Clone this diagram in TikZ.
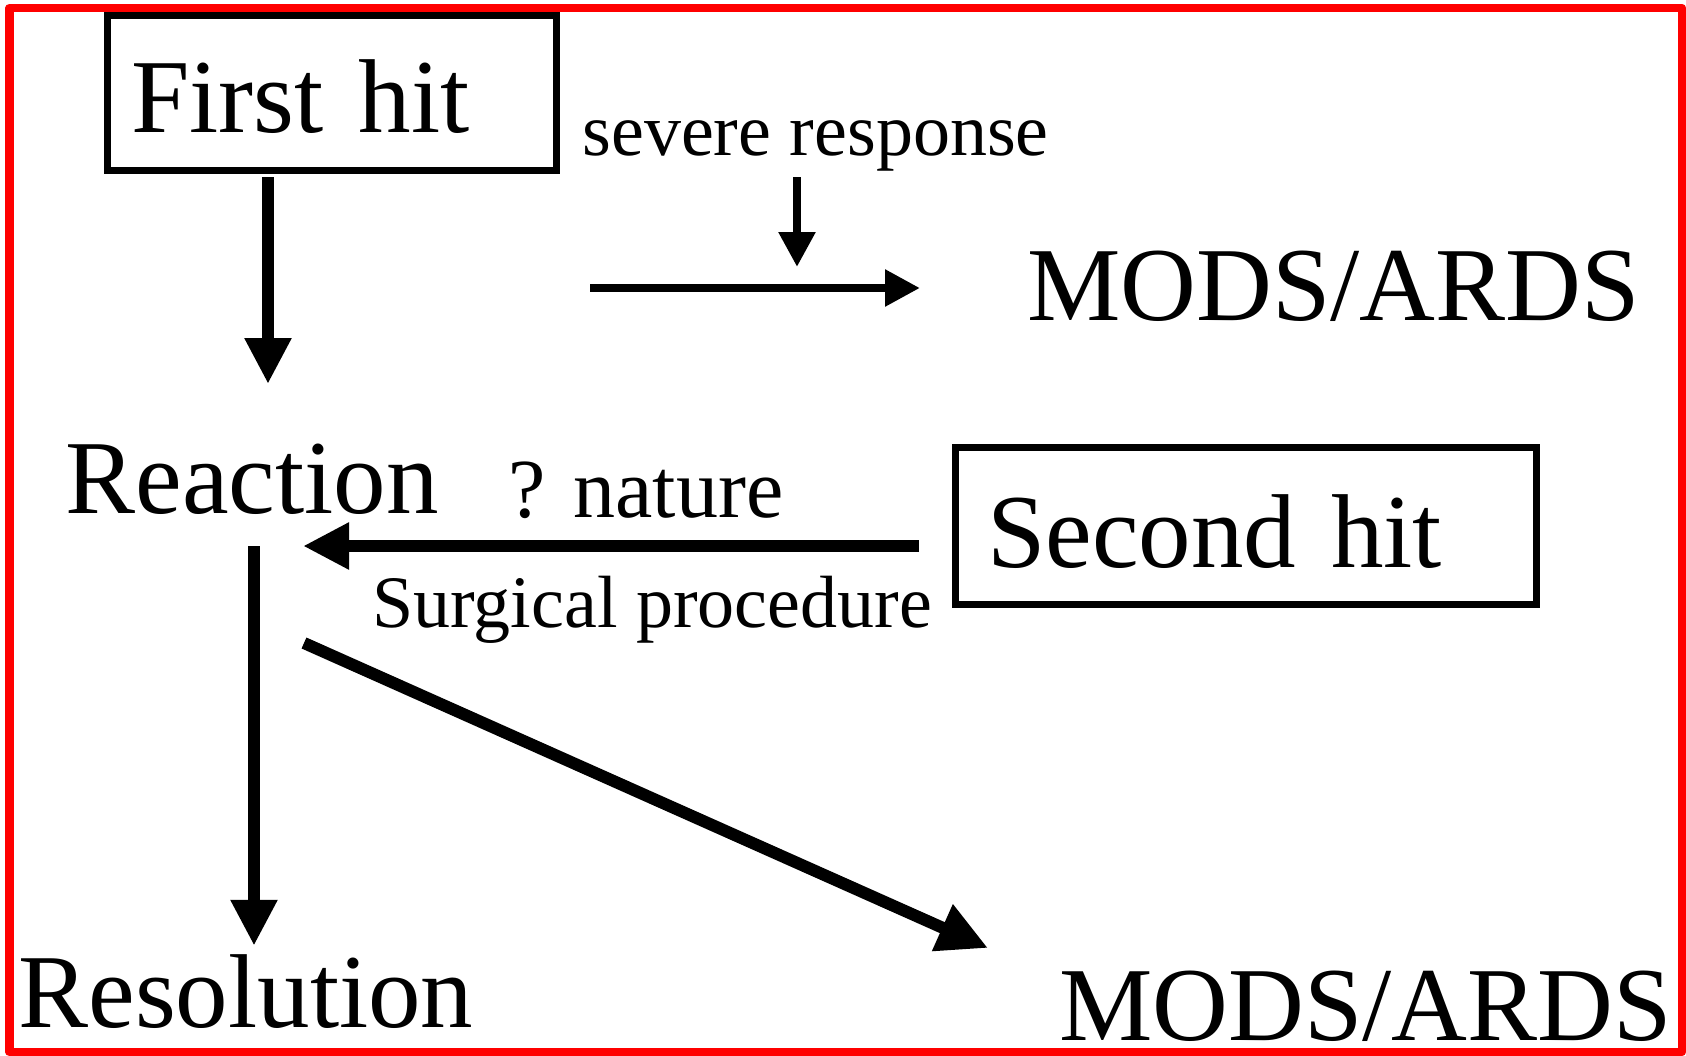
\documentclass[tikz,border=0pt]{standalone}
\usepackage{fontspec}
\setmainfont{Liberation Serif}
\usetikzlibrary{arrows.meta}

\begin{document}
\begin{tikzpicture}[
    x=0.5pt, y=-0.5pt,
    hit/.style={draw, line width=3.5pt, inner ysep=0pt, align=left,
      text depth=0pt, font=\fontsize{52.5}{60}\selectfont},
    word/.style={inner sep=0pt, anchor=base west,
      font=\fontsize{52.5}{60}\selectfont},
    note/.style={inner sep=0pt, anchor=base west,
      font=\fontsize{37}{44}\selectfont},
    bigarrow/.style={-{Triangle[length=23pt, width=22pt]}, line width=6pt},
    smallarrow/.style={-{Triangle[length=17.5pt, width=17.5pt]}, line width=4.25pt}
  ]
  \useasboundingbox (0,0) rectangle (1686,1055);
  \draw[red, line width=4.25pt, line join=round] (9.5,8) rectangle (1682,1052);

  \node[hit, minimum height=77.5pt, inner xsep=11.75pt, text width=201pt,
    text height=39.5pt] (firsthit) at (332,92.5) {First hit};
  \node[hit, minimum height=78.5pt, inner xsep=16pt, text width=258.5pt,
    text height=41.5pt] (secondhit) at (1245.5,525.5) {Second hit};

  \node[note] (severe) at (582,155) {severe response};
  \node[word] (mods1) at (1027,320) {MODS/ARDS};
  \node[word] (reaction) at (65,513) {Reaction};
  \node[note, font=\fontsize{42}{48}\selectfont] (nature) at (508,517) {? nature};
  \node[note] (surgical) at (372,627) {Surgical procedure};
  \node[word] (resolution) at (18,1027) {Resolution};
  \node[word] (mods2) at (1059,1040) {MODS/ARDS};

  \coordinate (hitdrop) at (268,384);
  \coordinate (severedrop) at (797,267);
  \coordinate (responsefoot) at (590,288);
  \coordinate (secondfoot) at (303,546);
  \coordinate (reactionfoot) at (254,546);
  \coordinate (slopefoot) at (304,643);
  \coordinate (slopehead) at (988,948);

  \draw[bigarrow, shorten <=1.75pt] (firsthit.south -| hitdrop) -- (hitdrop);
  \draw[smallarrow, shorten <=3pt] (severe.south -| severedrop) -- (severedrop);
  \draw[smallarrow, shorten >=53.5pt] (responsefoot) -- (mods1.west |- responsefoot);
  \draw[bigarrow, shorten <=16.25pt] (secondhit.west |- secondfoot) -- (secondfoot);
  \draw[bigarrow, shorten >=4pt] (reactionfoot) -- (resolution.north -| reactionfoot);
  \draw[bigarrow, -{Triangle[length=25pt, width=24pt]}] (slopefoot) -- (slopehead);
\end{tikzpicture}
\end{document}
